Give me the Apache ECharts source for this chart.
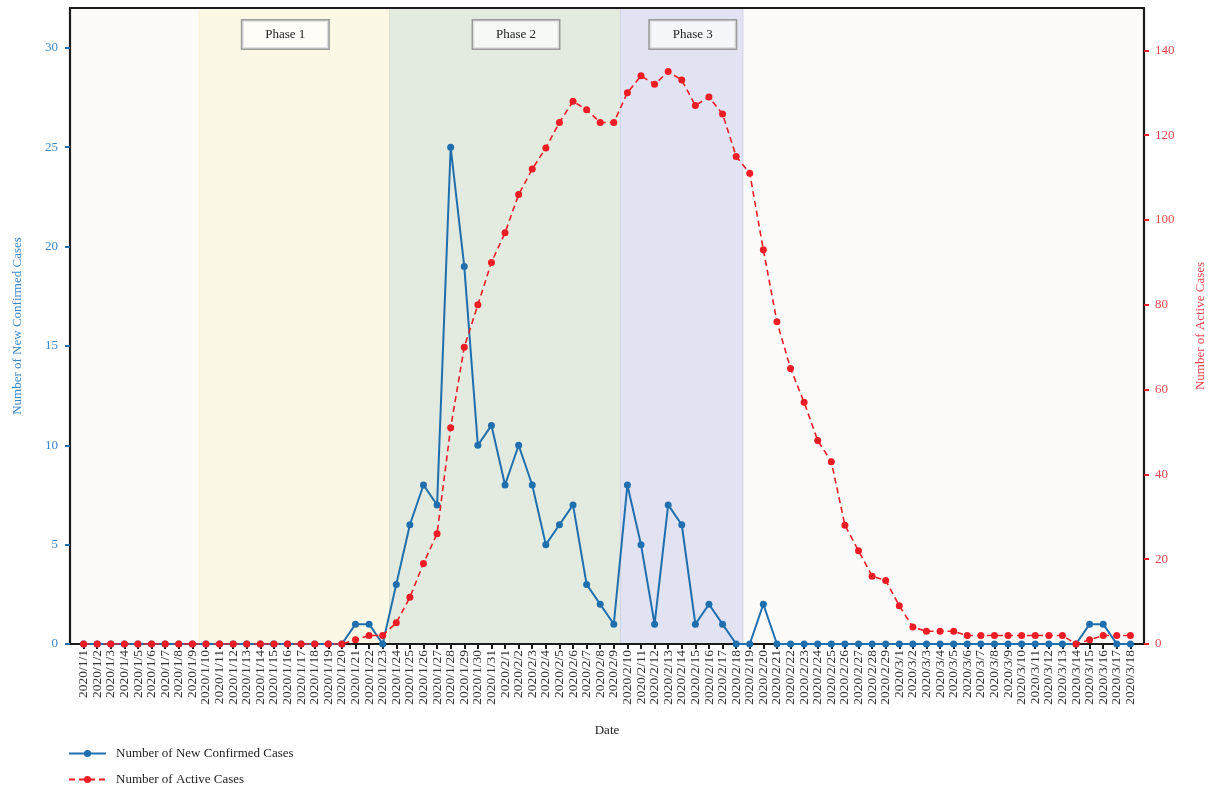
<!DOCTYPE html>
<html>
<head>
<meta charset="utf-8">
<title>New Confirmed and Active Cases</title>
<script src="https://cdn.jsdelivr.net/npm/echarts@6/dist/echarts.min.js"></script>
<style>
  html, body { margin: 0; padding: 0; background: #ffffff; }
  #chart { width: 1210px; height: 789px; }
</style>
</head>
<body>
<div id="chart"></div>
<script>
// Daily dates, 2020/1/1 to 2020/3/18
const dates = [
  '2020/1/1','2020/1/2','2020/1/3','2020/1/4','2020/1/5','2020/1/6','2020/1/7','2020/1/8','2020/1/9','2020/1/10',
  '2020/1/11','2020/1/12','2020/1/13','2020/1/14','2020/1/15','2020/1/16','2020/1/17','2020/1/18','2020/1/19','2020/1/20',
  '2020/1/21','2020/1/22','2020/1/23','2020/1/24','2020/1/25','2020/1/26','2020/1/27','2020/1/28','2020/1/29','2020/1/30',
  '2020/1/31','2020/2/1','2020/2/2','2020/2/3','2020/2/4','2020/2/5','2020/2/6','2020/2/7','2020/2/8','2020/2/9',
  '2020/2/10','2020/2/11','2020/2/12','2020/2/13','2020/2/14','2020/2/15','2020/2/16','2020/2/17','2020/2/18','2020/2/19',
  '2020/2/20','2020/2/21','2020/2/22','2020/2/23','2020/2/24','2020/2/25','2020/2/26','2020/2/27','2020/2/28','2020/2/29',
  '2020/3/1','2020/3/2','2020/3/3','2020/3/4','2020/3/5','2020/3/6','2020/3/7','2020/3/8','2020/3/9','2020/3/10',
  '2020/3/11','2020/3/12','2020/3/13','2020/3/14','2020/3/15','2020/3/16','2020/3/17','2020/3/18'
];

// Number of new confirmed cases per day (left axis)
const newConfirmed = [
  0,0,0,0,0,0,0,0,0,0,
  0,0,0,0,0,0,0,0,0,0,
  1,1,0,3,6,8,7,25,19,10,
  11,8,10,8,5,6,7,3,2,1,
  8,5,1,7,6,1,2,1,0,0,
  2,0,0,0,0,0,0,0,0,0,
  0,0,0,0,0,0,0,0,0,0,
  0,0,0,0,1,1,0,0
];

// Number of active cases per day (right axis)
const activeCases = [
  0,0,0,0,0,0,0,0,0,0,
  0,0,0,0,0,0,0,0,0,0,
  1,2,2,5,11,19,26,51,70,80,
  90,97,106,112,117,123,128,126,123,123,
  130,134,132,135,133,127,129,125,115,111,
  93,76,65,57,48,43,28,22,16,15,
  9,4,3,3,3,2,2,2,2,2,
  2,2,2,0,1,2,2,2
];

// Phase periods: [label, first date, last date]
const phases = [
  ['Phase 1', '2020/1/10', '2020/1/23'],
  ['Phase 2', '2020/1/24', '2020/2/9'],
  ['Phase 3', '2020/2/10', '2020/2/18']
];

const leftTicks = [0, 5, 10, 15, 20, 25, 30];
const rightTicks = [0, 20, 40, 60, 80, 100, 120, 140];

const FONT = '"Liberation Serif", "DejaVu Serif", serif';
const BLUE = '#1f6fae';
const BLUE_TEXT = '#3b88c9';
const RED = '#ee1c25';
const RED_TEXT = '#e8474f';
const AXIS = '#1c1c1c';

const phaseFills = ['#fcf8e6', '#e3ebe0', '#e2e3f2'];
const phaseEdges = ['#f7efcf', '#d8e0d6', '#cfd2e6'];
const phaseLabelShift = [-9, 11, 11];

const toPoints = arr => arr.map((v, i) => [i, v]);
// date categories padded by one empty slot at each end
const dateSlots = [''].concat(dates, ['']);

const bandData = phases.map((p, k) => [
  {
    name: p[0],
    xAxis: dates.indexOf(p[1]) - 0.5,
    itemStyle: { color: phaseFills[k], borderColor: phaseEdges[k], borderWidth: 1 },
    label: { offset: [phaseLabelShift[k], 0] }
  },
  { xAxis: dates.indexOf(p[2]) + 0.5 }
]);

const chart = echarts.init(document.getElementById('chart'), null, { renderer: 'canvas' });

chart.setOption({
  backgroundColor: '#ffffff',
  animation: false,
  textStyle: { fontFamily: FONT },
  grid: {
    left: 70, right: 66, top: 8, bottom: 145,
    outerBoundsMode: 'none',
    containLabel: false,
    show: true, backgroundColor: '#fcfbfa', borderWidth: 0
  },
  legend: {
    orient: 'vertical',
    left: 63, top: 742, height: 60,
    itemWidth: 37, itemHeight: 9, itemGap: 13,
    textStyle: { fontFamily: FONT, fontSize: 13, color: '#222', padding: [0, 0, 0, 5] },
    data: ['Number of New Confirmed Cases', 'Number of Active Cases']
  },
  xAxis: [
    {
      // day index scale used by the lines and the phase bands
      type: 'value',
      min: -1, max: dates.length,
      position: 'bottom',
      show: false
    },
    {
      // date labels and ticks
      type: 'category',
      data: dateSlots,
      boundaryGap: false,
      position: 'bottom',
      z: 2,
      name: 'Date',
      nameLocation: 'middle',
      nameGap: 80,
      nameTextStyle: { fontFamily: FONT, fontSize: 13, color: '#222' },
      axisLine: { onZero: false, lineStyle: { color: AXIS, width: 2.2 } },
      axisTick: {
        interval: (i, v) => v !== '',
        length: 5, lineStyle: { color: AXIS, width: 2 }
      },
      axisLabel: {
        interval: 0,
        rotate: 90, margin: 6,
        fontFamily: FONT, fontSize: 13.5, color: '#333'
      },
      splitLine: { show: false }
    },
    {
      // top frame line
      type: 'value',
      min: -1, max: dates.length,
      position: 'top',
      z: 2,
      axisLine: { onZero: false, lineStyle: { color: AXIS, width: 2.2 } },
      axisTick: { show: false },
      axisLabel: { show: false },
      splitLine: { show: false }
    }
  ],
  yAxis: [
    {
      type: 'value',
      min: 0, max: 32,
      position: 'left',
      z: 2,
      name: 'Number of New Confirmed Cases',
      nameLocation: 'middle',
      nameRotate: 90,
      nameGap: 46,
      nameTextStyle: { fontFamily: FONT, fontSize: 13, color: BLUE_TEXT },
      axisLine: { show: true, onZero: false, lineStyle: { color: AXIS, width: 2.2 } },
      axisTick: { show: true, customValues: leftTicks, length: 5, lineStyle: { color: BLUE, width: 2 } },
      axisLabel: { customValues: leftTicks, margin: 12, fontFamily: FONT, fontSize: 13, color: BLUE_TEXT },
      splitLine: { show: false }
    },
    {
      type: 'value',
      min: 0, max: 150,
      position: 'right',
      z: 2,
      name: 'Number of Active Cases',
      nameLocation: 'middle',
      nameRotate: 90,
      nameGap: 50,
      nameTextStyle: { fontFamily: FONT, fontSize: 13, color: RED_TEXT },
      axisLine: { show: true, onZero: false, lineStyle: { color: AXIS, width: 2.2 } },
      axisTick: { show: true, customValues: rightTicks, length: 5, lineStyle: { color: RED, width: 2 } },
      axisLabel: { customValues: rightTicks, margin: 11, fontFamily: FONT, fontSize: 13, color: RED_TEXT },
      splitLine: { show: false }
    }
  ],
  series: [
    {
      // phase bands drawn beneath the axes and the data lines
      type: 'line',
      xAxisIndex: 0, yAxisIndex: 0,
      z: 1,
      data: [],
      silent: true,
      markArea: {
        silent: true,
        label: {
          show: true,
          position: 'insideTop',
          distance: 13,
          formatter: '{b}',
          fontFamily: FONT, fontSize: 13, color: '#222',
          backgroundColor: 'rgba(255,255,255,0.7)',
          borderColor: '#9a9a9a', borderWidth: 1.5,
          width: 86, height: 28, lineHeight: 28,
          padding: 0
        },
        data: bandData
      }
    },
    {
      name: 'Number of New Confirmed Cases',
      type: 'line',
      xAxisIndex: 0, yAxisIndex: 0,
      z: 3,
      data: toPoints(newConfirmed),
      symbol: 'circle', symbolSize: 7,
      lineStyle: { color: BLUE, width: 2 },
      itemStyle: { color: BLUE }
    },
    {
      name: 'Number of Active Cases',
      type: 'line',
      xAxisIndex: 0, yAxisIndex: 1,
      z: 4,
      data: toPoints(activeCases),
      symbol: 'circle', symbolSize: 7,
      lineStyle: { color: RED, width: 1.6, type: [6, 4] },
      itemStyle: { color: RED }
    }
  ]
});
</script>
</body>
</html>
